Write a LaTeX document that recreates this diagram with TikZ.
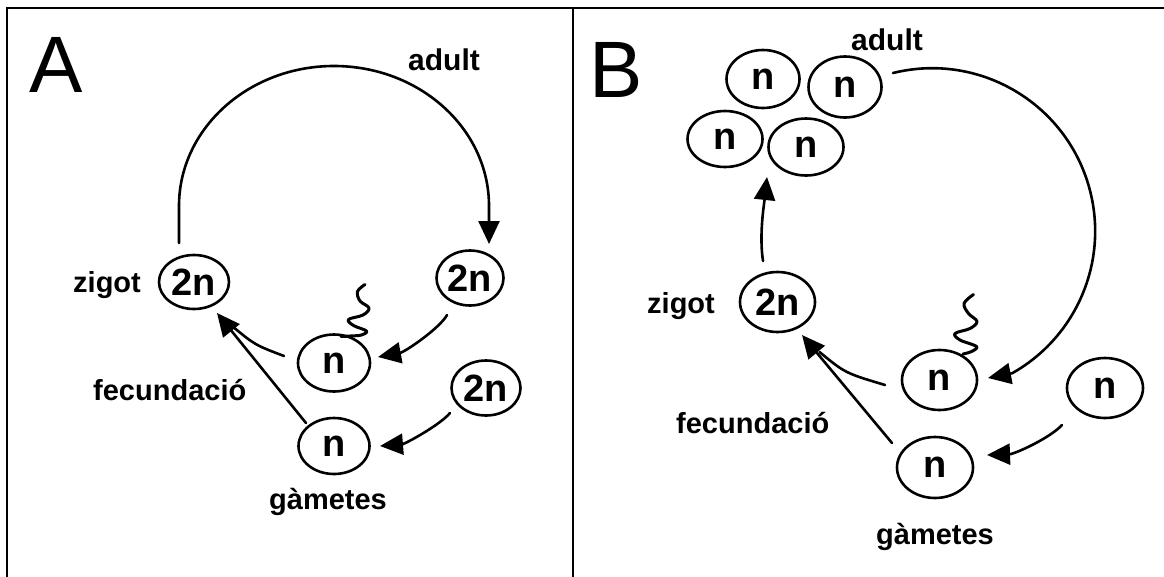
\documentclass[tikz,border=0pt]{standalone}
\usepackage{fontspec}
\setmainfont{Liberation Sans}
\usetikzlibrary{arrows.meta,shapes.geometric,calc}
\newcommand\cellfont{\bfseries\fontsize{38}{40}\selectfont}
\newcommand\labfont{\bfseries\fontsize{29}{32}\selectfont}
\newcommand\adultfont{\bfseries\fontsize{30}{32}\selectfont}
\newcommand\panelfont{\fontsize{80}{84}\selectfont}
\begin{document}
\begin{tikzpicture}[x=1pt,y=-1pt,
  cell/.style={draw, ellipse, line width=2.6pt, inner sep=0pt, font=\cellfont},
  lab/.style={anchor=base west, inner sep=0pt, font=\labfont},
  panel/.style={anchor=base west, inner sep=0pt, font=\panelfont},
  link/.style={line width=2.6pt, line cap=round},
  arr/.style={link, -{Triangle[length=23pt,width=21pt]}},
  tail/.style={line width=3pt, line cap=round, line join=round},
  frame/.style={line width=2pt}]
\useasboundingbox (0,0) rectangle (1164,576);
\fill[white] (0,0) rectangle (1164,576);
% frame
\draw[frame] (7,580) -- (7,7.5) -- (1168,7.5);
\draw[frame] (573,7.5) -- (573,580);

% ================= Panel A =================
\node[panel] (tA) at (29,92) {A};
\node[lab, font=\adultfont] (adA) at (408,70) {adult};
\node[lab] (zgA) at (73,292) {zigot};
\node[lab] (fcA) at (93,400) {fecundació};
\node[lab] (gmA) at (269,509) {gàmetes};

\node[cell, minimum width=70pt, minimum height=54pt] (zA) at (194,282) {2n};
\node[cell, minimum width=67pt, minimum height=55pt] (pA) at (470,278) {2n};
\node[cell, minimum width=72pt, minimum height=57pt] (mA) at (334,363) {n};
\node[cell, minimum width=69pt, minimum height=55pt] (qA) at (486,388) {2n};
\node[cell, minimum width=71pt, minimum height=56pt] (bA) at (334,446) {n};

\coordinate (aStart) at ($(zA)+(-15,-39)$);
\coordinate (aEnd) at ($(pA)+(19,-34)$);
\draw[arr] (aStart) -- ++(0,-37) arc[start angle=180, end angle=360, x radius=155, y radius=140] -- (aEnd);

\coordinate (pAo) at ($(pA)+(-23,37)$);
\coordinate (mAi) at ($(mA)+(44,-6)$);
\draw[arr] (pAo) .. controls (440,328) and (405,352) .. (mAi);

\coordinate (qAo) at ($(qA)+(-36,25)$);
\coordinate (bAi) at ($(bA)+(46,0)$);
\draw[arr] (qAo) .. controls (440,425) and (405,444) .. (bAi);

\coordinate (zAi) at ($(zA)+(23,31)$);
\coordinate (mAo) at ($(mA)+(-50,-7)$);
\coordinate (bAo) at ($(bA)+(-28,-23)$);
\draw[link] (mAo) .. controls (255,345) .. ($(zA)+(38,44)$);
\draw[arr] (bAo) -- (zAi);

% sperm tail A
\draw[tail] plot[smooth, tension=0.6] coordinates {(365,284.5) (357.5,291.5) (360,301) (369,308) (363,315) (348.5,319.5) (353.5,325.5) (366.5,331) (361.5,335) (350,336) (341,336.5)};

% ================= Panel B =================
\node[panel] (tB) at (589,97) {B};
\node[lab, font=\adultfont] (adB) at (851,50) {adult};
\node[lab] (zgB) at (647,313) {zigot};
\node[lab] (fcB) at (676,433) {fecundació};
\node[lab] (gmB) at (876,544) {gàmetes};

\node[cell, minimum width=73pt, minimum height=58pt] (n1) at (763,79) {n};
\node[cell, minimum width=73pt, minimum height=61pt] (n2) at (845,87) {n};
\node[cell, minimum width=75pt, minimum height=56pt] (n3) at (725,139) {n};
\node[cell, minimum width=75pt, minimum height=57pt] (n4) at (806,147) {n};

\node[cell, minimum width=75pt, minimum height=60pt] (zB) at (777.5,302) {2n};
\node[cell, minimum width=75pt, minimum height=60pt] (mB) at (939.5,380) {n};
\node[cell, minimum width=76pt, minimum height=60pt] (rB) at (1105,388) {n};
\node[cell, minimum width=76pt, minimum height=61pt] (bB) at (935,467.5) {n};

% zygote -> adult
\coordinate (zBo) at ($(zB)+(-14.5,-41)$);
\coordinate (grpIn) at ($(n3)!0.5!(n4)+(1.5,34)$);
\draw[arr] (zBo) .. controls (759,235) and (764,205) .. (grpIn);

% adult -> gametes (big arc)
\coordinate (bStart) at ($(n2)+(48,-14)$);
\coordinate (mBi) at ($(mB)+(48.5,-2)$);
\draw[arr] (bStart) arc[start angle=-103.9, end angle=60.6, radius=163] -- (mBi);

% right n -> bottom n
\coordinate (rBo) at ($(rB)+(-43,37)$);
\coordinate (bBi) at ($(bB)+(52,-12.5)$);
\draw[arr] (rBo) .. controls (1050,438) and (1015,454) .. (bBi);

% fecundation
\coordinate (zBi) at ($(zB)+(24.5,33)$);
\coordinate (mBo) at ($(mB)+(-54.5,5)$);
\coordinate (bBo) at ($(bB)+(-43,-24.5)$);
\draw[link] (mBo) .. controls (845,373) .. ($(zB)+(42,50)$);
\draw[arr] (bBo) -- (zBi);

% sperm tail B
\draw[tail] plot[smooth, tension=0.6] coordinates {(973.5,294.5) (964,303.5) (968.5,313.5) (977,321.5) (970,328.5) (955,333.5) (960,340) (976.5,346.5) (971.5,351.5) (963,354)};
\end{tikzpicture}
\end{document}
